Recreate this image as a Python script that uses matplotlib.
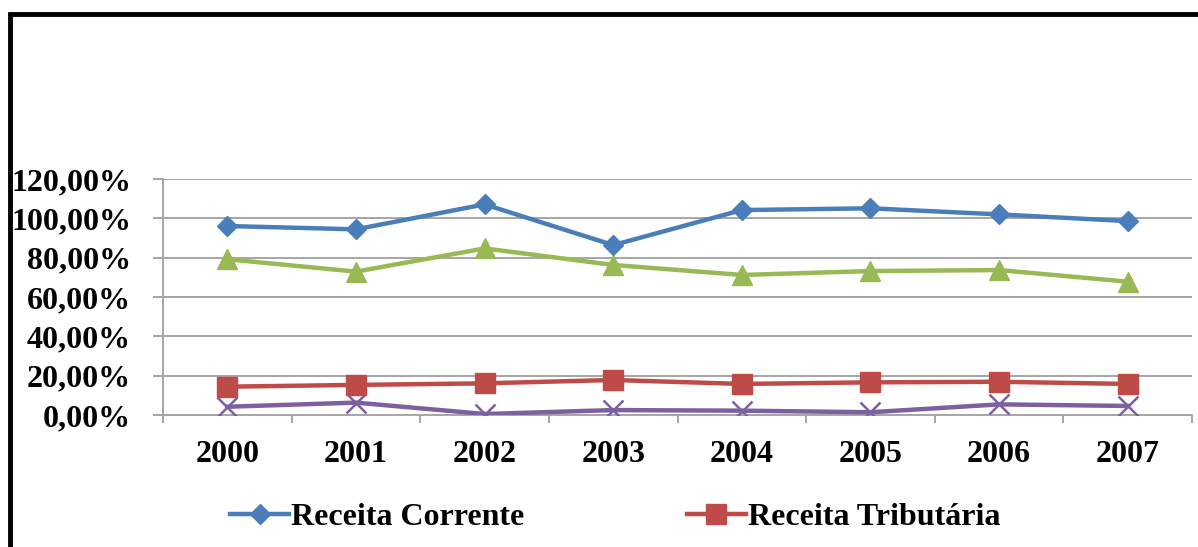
import matplotlib
matplotlib.use("Agg")
import matplotlib.pyplot as plt
from matplotlib.lines import Line2D
from matplotlib.ticker import FuncFormatter, FixedLocator

plt.rcParams['font.family'] = ['Liberation Serif', 'DejaVu Serif']
plt.rcParams['font.weight'] = 'bold'

years = ['2000', '2001', '2002', '2003', '2004', '2005', '2006', '2007']
receita_corrente = [96.1, 94.4, 107.1, 86.4, 104.2, 105.1, 102.0, 98.6]
serie_verde = [79.2, 72.9, 84.7, 76.3, 71.2, 73.2, 73.7, 67.8]
receita_tributaria = [14.4, 15.3, 16.1, 17.8, 15.8, 16.6, 16.9, 15.8]
serie_roxa = [4.2, 6.3, 0.5, 2.5, 2.2, 1.4, 5.4, 4.6]

W, H = 1198, 547
fig = plt.figure(figsize=(W / 100, H / 100), dpi=100)
fig.patch.set_facecolor('white')

ax = fig.add_axes([163 / W, 1 - 415 / H, (1192 - 163) / W, (415 - 179) / H])
x = list(range(len(years)))

c_blue = '#4A7EBB'
c_red = '#BE4B48'
c_green = '#98B954'
c_purple = '#7D60A0'

l1, = ax.plot(x, receita_corrente, color=c_blue, lw=3.2, marker='D', ms=10.5,
              label='Receita Corrente', zorder=5)
l3, = ax.plot(x, serie_verde, color=c_green, lw=3.2, marker='^', ms=15,
              label='_nolegend_', zorder=4)
l2, = ax.plot(x, receita_tributaria, color=c_red, lw=3.2, marker='s', ms=14,
              label='Receita Tributária', zorder=4)
l4, = ax.plot(x, serie_roxa, color=c_purple, lw=3.2, marker='x', ms=14, mew=1.8,
              label='_nolegend_', zorder=3)

ax.set_xlim(-0.5, 7.5)
ax.set_ylim(0, 120)
ax.set_yticks([0, 20, 40, 60, 80, 100, 120])
ax.yaxis.set_major_formatter(FuncFormatter(lambda v, p: f"{v:.2f}".replace('.', ',') + '%'))
ax.set_xticks(x)
ax.set_xticklabels(years)
ax.xaxis.set_minor_locator(FixedLocator([i - 0.5 for i in range(len(years) + 1)]))

grid_c = '#A6A6A6'
ax.grid(axis='y', color=grid_c, lw=1.4)
ax.set_axisbelow(True)
for s in ['top', 'right']:
    ax.spines[s].set_visible(False)
for s in ['left', 'bottom']:
    ax.spines[s].set_color(grid_c)
    ax.spines[s].set_linewidth(1.4)

ax.tick_params(axis='y', which='major', length=7, width=1.4, color=grid_c,
               labelsize=23, pad=16)
ax.tick_params(axis='x', which='major', length=0, labelsize=23, pad=18)
ax.tick_params(axis='x', which='minor', length=6, width=1.4, color=grid_c)
for lab in ax.get_xticklabels() + ax.get_yticklabels():
    lab.set_fontweight('bold')

leg = fig.legend(handles=[l1, l2], loc='center left',
                 bbox_to_anchor=(230 / W, 1 - 517 / H), ncol=2, frameon=False,
                 prop={'family': 'Liberation Serif', 'weight': 'bold', 'size': 23},
                 handlelength=1.85, handletextpad=0.05, columnspacing=5.1,
                 borderpad=0, borderaxespad=0)

# outer black frame (top and left edges visible)
fig.add_artist(Line2D([8 / W, 1.0], [1 - 13.5 / H, 1 - 13.5 / H],
                      transform=fig.transFigure, color='black', lw=3.5,
                      solid_capstyle='butt'))
fig.add_artist(Line2D([10 / W, 10 / W], [0, 1 - 12 / H],
                      transform=fig.transFigure, color='black', lw=3.5,
                      solid_capstyle='butt'))

fig.savefig('out.png', dpi=100, facecolor='white')
